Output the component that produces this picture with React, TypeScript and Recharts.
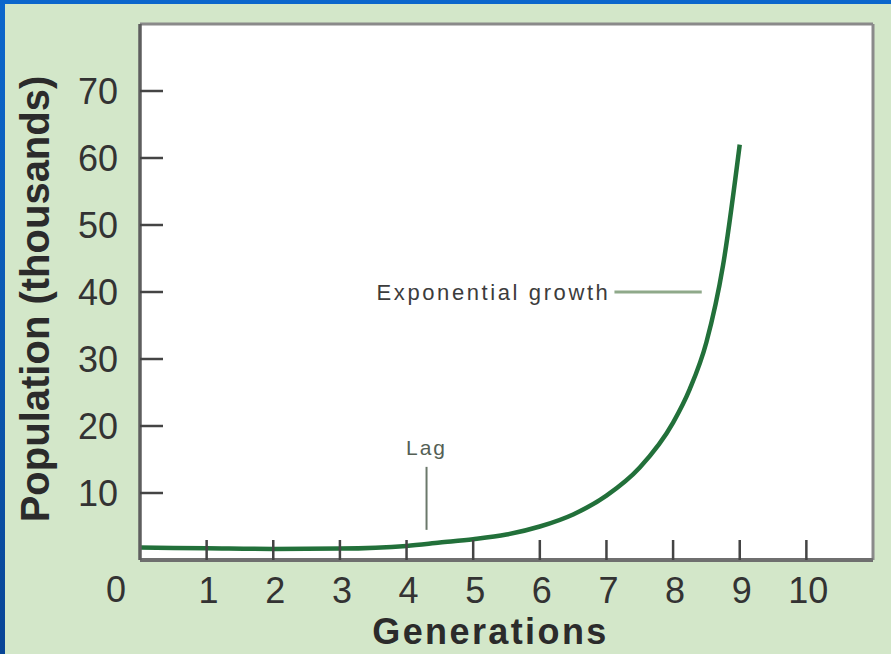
import React from "react";
import {
  LineChart,
  Line,
  XAxis,
  YAxis,
  CartesianGrid,
  ReferenceLine,
  Label,
} from "recharts";

// values (population in thousands)
const generations = [0, 1, 2, 3, 4, 4.5, 5, 5.5, 6, 6.5, 7, 7.5, 8, 8.25, 8.5, 8.75, 9];
const population = [1.85, 1.75, 1.65, 1.7, 2.1, 2.6, 3.1, 3.8, 5.0, 6.8, 9.6, 13.8, 20.5, 25.5, 32.5, 44, 62];
const xTicks = [0, 1, 2, 3, 4, 5, 6, 7, 8, 9, 10];
const yTicks = [10, 20, 30, 40, 50, 60, 70];

const data = generations.map((g, i) => ({ gen: g, pop: population[i] }));

const FONT = '"Liberation Sans", Arial, sans-serif';

const YTick = ({ x, y, payload }: any) => (
  <g>
    <line x1={x} x2={x + 23} y1={y} y2={y} stroke="#444" strokeWidth={2.5} />
    <text
      x={x - 22}
      y={y}
      dy="0.36em"
      textAnchor="end"
      fontSize={36}
      fontFamily={FONT}
      fill="#333"
    >
      {payload.value}
    </text>
  </g>
);

const XTick = ({ x, y, payload }: any) => {
  if (payload.value === 0) {
    return (
      <text x={x - 24} y={y + 29} dy="0.36em" textAnchor="middle" fontSize={36} fontFamily={FONT} fill="#333">
        0
      </text>
    );
  }
  return (
    <g>
      <line x1={x} x2={x} y1={y} y2={y - 20} stroke="#444" strokeWidth={2.5} />
      <text x={x + 2} y={y + 30} dy="0.36em" textAnchor="middle" fontSize={36} fontFamily={FONT} fill="#333">
        {payload.value}
      </text>
    </g>
  );
};

const YTitle = ({ viewBox }: any) => {
  const cx = viewBox.x + 35;
  const cy = viewBox.y + viewBox.height / 2 + 7;
  return (
    <text
      x={cx}
      y={cy}
      transform={`rotate(-90 ${cx} ${cy})`}
      textAnchor="middle"
      dominantBaseline="central"
      fontSize={40}
      fontWeight="bold"
      fontFamily={FONT}
      fill="#2b2b2b"
    >
      Population (thousands)
    </text>
  );
};

const XTitle = ({ viewBox }: any) => (
  <text
    x={viewBox.x + viewBox.width / 2 - 16}
    y={viewBox.y + 84}
    textAnchor="middle"
    fontSize={36}
    fontWeight="bold"
    letterSpacing={2.4}
    fontFamily={FONT}
    fill="#2b2b2b"
  >
    Generations
  </text>
);

export default function App() {
  return (
    <div
      style={{
        position: "absolute",
        left: 0,
        top: 0,
        width: 891,
        height: 654,
        background: "linear-gradient(180deg, #0b67cc 0%, #0a56ad 60%, #084596 100%)",
      }}
    >
      <div
        style={{
          position: "absolute",
          left: 5,
          top: 4,
          width: 886,
          height: 650,
          background: "#d3e7c9",
        }}
      />
      <div style={{ position: "absolute", left: 0, top: 0 }}>
        <LineChart
          width={891}
          height={654}
          data={data}
          margin={{ top: 24, right: 18, left: 0, bottom: 0 }}
        >
          <CartesianGrid fill="#ffffff" stroke="none" horizontal={false} vertical={false} />
          <XAxis
            dataKey="gen"
            type="number"
            domain={[0, 11]}
            ticks={xTicks}
            interval={0}
            height={94}
            tickSize={0}
            tickMargin={0}
            tickLine={false}
            axisLine={{ stroke: "#6f6f6f", strokeWidth: 4 }}
            tick={<XTick />}
          >
            <Label content={<XTitle />} />
          </XAxis>
          <YAxis
            type="number"
            domain={[0, 80]}
            ticks={yTicks}
            interval={0}
            width={140}
            tickSize={0}
            tickMargin={0}
            tickLine={false}
            axisLine={{ stroke: "#5e5e5e", strokeWidth: 3.5 }}
            tick={<YTick />}
          >
            <Label content={<YTitle />} />
          </YAxis>
          <ReferenceLine x={11} stroke="#8a8a8a" strokeWidth={3} />
          <ReferenceLine y={80} stroke="#8a8a8a" strokeWidth={3} />
          <ReferenceLine
            segment={[
              { x: 4.3, y: 4.5 },
              { x: 4.3, y: 13.9 },
            ]}
            stroke="#6b786b"
            strokeWidth={2}
          >
            <Label
              value="Lag"
              position="top"
              offset={12}
              fontSize={21}
              letterSpacing={2}
              fontFamily={FONT}
              fill="#555f55"
            />
          </ReferenceLine>
          <ReferenceLine
            segment={[
              { x: 7.12, y: 40 },
              { x: 8.43, y: 40 },
            ]}
            stroke="#8fa98a"
            strokeWidth={3}
          >
            <Label
              value="Exponential growth"
              position="left"
              offset={4}
              fontSize={22}
              letterSpacing={2.6}
              fontFamily={FONT}
              fill="#3c3c3c"
            />
          </ReferenceLine>
          <Line
            type="monotone"
            dataKey="pop"
            stroke="#22703a"
            strokeWidth={4.5}
            dot={false}
            isAnimationActive={false}
          />
        </LineChart>
      </div>
    </div>
  );
}
